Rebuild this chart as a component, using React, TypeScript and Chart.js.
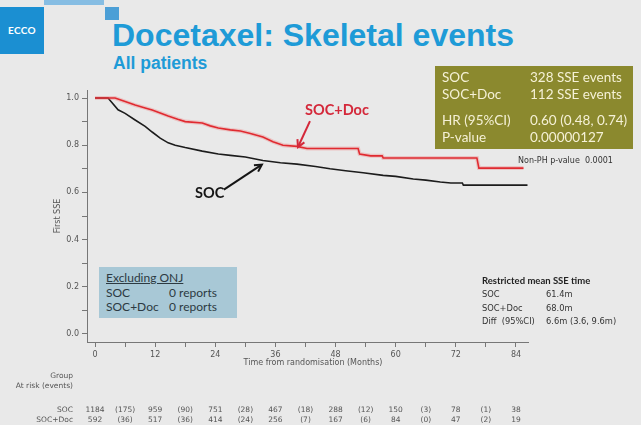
import React, { useEffect, useRef } from 'react';
import { Chart, registerables } from 'chart.js';
Chart.register(...registerables);

// ---- data ----
const socMonths = [0, 2.6, 4.6, 6, 8, 10, 11.4, 13, 14.6, 16, 18, 21.4, 24.6, 27, 30, 33.5, 37, 40.3, 44, 46.9, 50, 53.5, 57.5, 60, 63.5, 66, 68.9, 71, 73.3, 73.5, 86.3];
const socSurvival = [1.0, 1.0, 0.95, 0.935, 0.907, 0.88, 0.856, 0.83, 0.81, 0.8, 0.79, 0.775, 0.763, 0.757, 0.75, 0.735, 0.726, 0.72, 0.71, 0.7, 0.692, 0.683, 0.672, 0.668, 0.657, 0.652, 0.644, 0.64, 0.64, 0.631, 0.631];
const docMonths = [0, 4, 6, 8, 10, 11.4, 13, 14.6, 16.5, 18, 21.4, 23, 24.6, 27, 29, 31, 33.5, 35.5, 37.5, 40.3, 42.3, 52.5, 52.8, 55, 57.3, 57.5, 76.2, 76.6, 85.5];
const docSurvival = [1.0, 1.0, 0.985, 0.97, 0.958, 0.949, 0.937, 0.924, 0.91, 0.9, 0.894, 0.882, 0.873, 0.865, 0.86, 0.85, 0.835, 0.815, 0.8, 0.795, 0.786, 0.786, 0.763, 0.755, 0.755, 0.746, 0.746, 0.703, 0.703];

const xTickValues = [0, 6, 12, 18, 24, 30, 36, 42, 48, 54, 60, 66, 72, 78, 84];
const yTickValues = [0, 0.1, 0.2, 0.3, 0.4, 0.5, 0.6, 0.7, 0.8, 0.9, 1.0];
const riskMonths = [0, 6, 12, 18, 24, 30, 36, 42, 48, 54, 60, 66, 72, 78, 84];
const socRisk = ['1184', '(175)', '959', '(90)', '751', '(28)', '467', '(18)', '288', '(12)', '150', '(3)', '78', '(1)', '38'];
const docRisk = ['592', '(36)', '517', '(36)', '414', '(24)', '256', '(7)', '167', '(6)', '84', '(0)', '47', '(2)', '19'];

const docArrowTip = { x: 40.5, y: 0.792 };
const socArrowTip = { x: 33.3, y: 0.718 };

const TICK_FONT = 'DejaVu Sans';

function drawArrow(ctx: CanvasRenderingContext2D, x1: number, y1: number, x2: number, y2: number, color: string) {
  const ang = Math.atan2(y2 - y1, x2 - x1);
  const head = 8;
  ctx.save();
  ctx.strokeStyle = color;
  ctx.lineWidth = 2;
  ctx.beginPath();
  ctx.moveTo(x1, y1);
  ctx.lineTo(x2 - Math.cos(ang) * 2, y2 - Math.sin(ang) * 2);
  ctx.stroke();
  ctx.beginPath();
  ctx.moveTo(x2 - Math.cos(ang - 0.5) * head, y2 - Math.sin(ang - 0.5) * head);
  ctx.lineTo(x2, y2);
  ctx.lineTo(x2 - Math.cos(ang + 0.5) * head, y2 - Math.sin(ang + 0.5) * head);
  ctx.stroke();
  ctx.restore();
}

const annotationPlugin = {
  id: 'annotations',
  afterDraw(chart: any) {
    const ctx: CanvasRenderingContext2D = chart.ctx;
    const xs = chart.scales.x;
    const ys = chart.scales.y;
    ctx.save();
    ctx.fillStyle = '#555';
    ctx.font = `8px ${TICK_FONT}`;
    ctx.textAlign = 'center';
    ctx.textBaseline = 'middle';
    ctx.fillText('Time from randomisation (Months)', 313, 363);
    ctx.save();
    ctx.translate(58, 216);
    ctx.rotate(-Math.PI / 2);
    ctx.fillText('First SSE', 0, 0);
    ctx.restore();

    // risk table
    ctx.font = `7.5px ${TICK_FONT}`;
    ctx.textAlign = 'right';
    ctx.fillText('Group', 73, 376);
    ctx.fillText('At risk (events)', 73, 386);
    ctx.fillText('SOC', 73, 410);
    ctx.fillText('SOC+Doc', 73, 420);
    ctx.textAlign = 'center';
    riskMonths.forEach((m, i) => {
      const px = xs.getPixelForValue(m);
      ctx.fillText(socRisk[i], px, 410);
      ctx.fillText(docRisk[i], px, 420);
    });

    // arrows
    const dx = xs.getPixelForValue(docArrowTip.x);
    const dy = ys.getPixelForValue(docArrowTip.y);
    drawArrow(ctx, dx + 12, dy - 26, dx, dy, '#d4283a');
    const sx = xs.getPixelForValue(socArrowTip.x);
    const sy = ys.getPixelForValue(socArrowTip.y);
    drawArrow(ctx, sx - 38, sy + 25, sx, sy, '#151515');
    ctx.restore();
  },
};

function ChartCanvas() {
  const ref = useRef<HTMLCanvasElement>(null);
  useEffect(() => {
    if (!ref.current) return;
    const socPts = socMonths.map((m, i) => ({ x: m, y: socSurvival[i] }));
    const docPts = docMonths.map((m, i) => ({ x: m, y: docSurvival[i] }));
    const chart = new Chart(ref.current, {
      type: 'line',
      data: {
        datasets: [
          { label: 'SOC+Doc', data: docPts, borderColor: '#e02a30', borderWidth: 1.6, tension: 0, pointRadius: 0, fill: false },
          { label: 'SOC+Doc glow', data: docPts, borderColor: 'rgba(240,110,110,0.3)', borderWidth: 4, tension: 0, pointRadius: 0, fill: false },
          { label: 'SOC', data: socPts, borderColor: '#1c1c1c', borderWidth: 1.6, tension: 0, pointRadius: 0, fill: false },
        ],
      },
      options: {
        animation: false,
        responsive: false,
        layout: { padding: { left: 0, top: 90, right: 113, bottom: 0 } },
        plugins: { legend: { display: false }, tooltip: { enabled: false } },
        elements: { point: { radius: 0 } },
        scales: {
          x: {
            type: 'linear',
            min: -1.6,
            max: 86.4,
            afterBuildTicks: (s: any) => { s.ticks = xTickValues.map((v) => ({ value: v })); },
            afterFit: (s: any) => { s.height = 83; },
            ticks: {
              autoSkip: false,
              maxRotation: 0,
              padding: 3,
              color: '#555',
              font: { family: TICK_FONT, size: 8 },
              callback: (v: any) => (v % 12 === 0 ? String(v) : ''),
            },
            grid: { drawOnChartArea: false, tickLength: 5, color: '#777' },
            border: { color: '#777', width: 1 },
          },
          y: {
            type: 'linear',
            min: -0.034,
            max: 1.034,
            afterBuildTicks: (s: any) => { s.ticks = yTickValues.map((v) => ({ value: v })); },
            afterFit: (s: any) => { s.width = 87; },
            ticks: {
              autoSkip: false,
              padding: 3,
              color: '#555',
              font: { family: TICK_FONT, size: 8 },
              callback: (v: any) => (Math.round(v * 10) % 2 === 0 ? Number(v).toFixed(1) : ''),
            },
            grid: { drawOnChartArea: false, tickLength: 5, color: '#777' },
            border: { color: '#777', width: 1 },
          },
        },
      },
      plugins: [annotationPlugin],
    } as any);
    return () => chart.destroy();
  }, []);
  return <canvas ref={ref} width={641} height={425} style={{ position: 'absolute', left: 0, top: 0, width: 641, height: 425 }} />;
}

const abs = (left: number, top: number, extra: React.CSSProperties = {}): React.CSSProperties => ({
  position: 'absolute', left, top, whiteSpace: 'nowrap', ...extra,
});

export default function App() {
  const box: React.CSSProperties = { fontFamily: 'Lato, sans-serif', fontSize: 13.5, lineHeight: '16px', color: '#f5f1d6' };
  const ex: React.CSSProperties = { fontFamily: 'Lato, sans-serif', fontSize: 12, lineHeight: '14px', color: '#2c3a42' };
  const rm: React.CSSProperties = { fontFamily: 'DejaVu Sans, sans-serif', fontSize: 8.3, lineHeight: '12px', color: '#333' };
  return (
    <div style={{ position: 'absolute', left: 0, top: 0, width: 641, height: 425, overflow: 'hidden', background: '#e9e9e9' }}>
      {/* logo */}
      <div style={abs(0, 7, { width: 44, height: 47, background: '#1b8fd2' })} />
      <div style={abs(0, 24, { width: 44, textAlign: 'center', color: '#fff', fontFamily: 'Lato, sans-serif', fontWeight: 700, fontSize: 10, lineHeight: '12px', letterSpacing: 0.3 })}>ECCO</div>
      <div style={abs(44, 0, { width: 60, height: 5, background: '#86bde3' })} />
      <div style={abs(105, 7, { width: 14, height: 13, background: '#4c9fd6' })} />
      {/* titles */}
      <div style={abs(112, 16, { fontFamily: 'Liberation Sans, Arial, sans-serif', fontWeight: 700, fontSize: 32, lineHeight: '38px', color: '#1e9bd7' })}>Docetaxel: Skeletal events</div>
      <div style={abs(113, 53, { fontFamily: 'Liberation Sans, Arial, sans-serif', fontWeight: 700, fontSize: 17.5, lineHeight: '20px', color: '#1e9bd7' })}>All patients</div>

      <ChartCanvas />

      {/* stats box */}
      <div style={abs(435, 66, { width: 198, height: 83, background: '#8b892e' })}>
        <div style={abs(7, 3, box)}>SOC</div>
        <div style={abs(95, 3, box)}>328 SSE events</div>
        <div style={abs(7, 20, box)}>SOC+Doc</div>
        <div style={abs(95, 20, box)}>112 SSE events</div>
        <div style={abs(7, 46, box)}>HR (95%CI)</div>
        <div style={abs(95, 46, box)}>0.60 (0.48, 0.74)</div>
        <div style={abs(7, 63, box)}>P-value</div>
        <div style={abs(95, 63, box)}>0.00000127</div>
      </div>
      <div style={abs(518, 155, { ...rm, fontSize: 8 })}>Non-PH p-value&nbsp;&nbsp;0.0001</div>

      {/* curve labels */}
      <div style={abs(305, 101, { fontFamily: 'Lato, sans-serif', fontWeight: 700, fontSize: 14.5, lineHeight: '18px', color: '#d4283a' })}>SOC+Doc</div>
      <div style={abs(195, 184, { fontFamily: 'Lato, sans-serif', fontWeight: 700, fontSize: 14.5, lineHeight: '18px', color: '#151515' })}>SOC</div>

      {/* excluding ONJ box */}
      <div style={abs(99, 267, { width: 138, height: 51, background: '#a8c8d6' })}>
        <div style={abs(7, 4, { ...ex, textDecoration: 'underline' })}>Excluding ONJ</div>
        <div style={abs(7, 19, ex)}>SOC</div>
        <div style={abs(70, 19, ex)}>0 reports</div>
        <div style={abs(7, 33, ex)}>SOC+Doc</div>
        <div style={abs(70, 33, ex)}>0 reports</div>
      </div>

      {/* restricted mean */}
      <div style={abs(482, 275, { ...rm, fontFamily: 'Lato, sans-serif', fontWeight: 700, fontSize: 9.5, color: '#222' })}>Restricted mean SSE time</div>
      <div style={abs(482, 288, rm)}>SOC</div>
      <div style={abs(546, 288, rm)}>61.4m</div>
      <div style={abs(482, 302, rm)}>SOC+Doc</div>
      <div style={abs(546, 302, rm)}>68.0m</div>
      <div style={abs(482, 315, rm)}>Diff&nbsp;&nbsp;(95%CI)</div>
      <div style={abs(546, 315, rm)}>6.6m (3.6, 9.6m)</div>
    </div>
  );
}
